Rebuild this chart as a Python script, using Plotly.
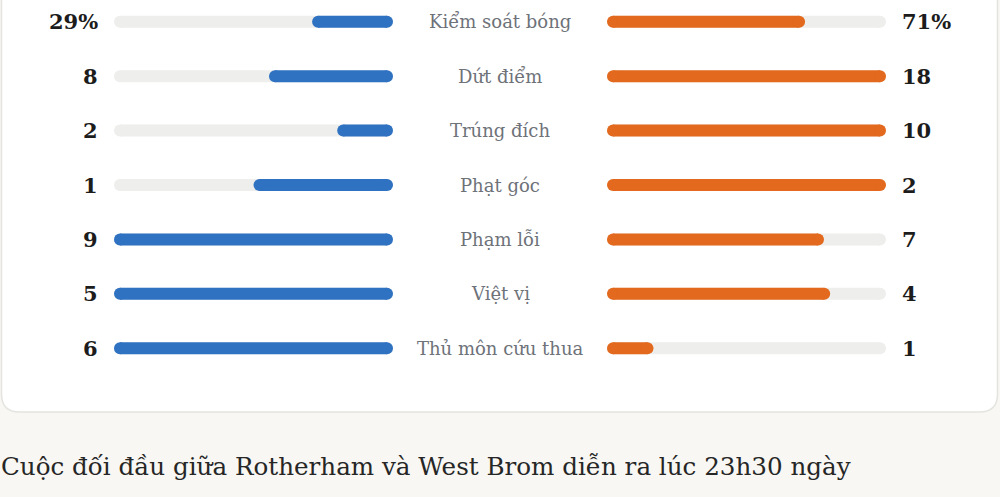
import plotly.graph_objects as go

stats = ["Kiểm soát bóng", "Dứt điểm", "Trúng đích", "Phạt góc", "Phạm lỗi", "Việt vị", "Thủ môn cứu thua"]
home = [29, 8, 2, 1, 9, 5, 6]
away = [71, 18, 10, 2, 7, 4, 1]
home_labels = ["29%", "8", "2", "1", "9", "5", "6"]
away_labels = ["71%", "18", "10", "2", "7", "4", "1"]
caption = "Cuộc đối đầu giữa Rotherham và West Brom diễn ra lúc 23h30 ngày"

BLUE = "#2f72c2"
ORANGE = "#e2691d"
TRACK = "#eeefec"

# possession is already a share, the rest are scaled against the bigger side
home_frac, away_frac = [], []
for i, (h, a) in enumerate(zip(home, away)):
    if i == 0:
        home_frac.append(h / 100)
        away_frac.append(a / 100)
    else:
        m = max(h, a)
        home_frac.append(h / m)
        away_frac.append(a / m)

ys = list(range(len(stats)))
TRACK_PX = 279
THICK = 12
cap = (THICK / 2) / TRACK_PX  # round cap size in axis units


def pill_xy(fracs):
    xs, yy = [], []
    for y, f in zip(ys, fracs):
        xs += [cap, max(f - cap, cap), None]
        yy += [y, y, None]
    return xs, yy


def pill(fracs, color, xaxis):
    xs, yy = pill_xy(fracs)
    return go.Scatter(x=xs, y=yy, mode="lines+markers", xaxis=xaxis, yaxis="y",
                      line=dict(color=color, width=THICK),
                      marker=dict(color=color, size=THICK, line=dict(width=0)),
                      hoverinfo="skip")


fig = go.Figure()
fig.add_trace(pill([1] * len(ys), TRACK, "x"))
fig.add_trace(pill(home_frac, BLUE, "x"))
fig.add_trace(pill([1] * len(ys), TRACK, "x2"))
fig.add_trace(pill(away_frac, ORANGE, "x2"))

H = 497


def py(p):
    return 1 - p / H


ann = []
for y, s, hl, al in zip(ys, stats, home_labels, away_labels):
    ann.append(dict(x=0.5, y=y, xref="paper", yref="y", text=s, showarrow=False,
                    xanchor="center", yanchor="middle",
                    font=dict(family="DejaVu Serif", size=18, color="#6e7279")))
    ann.append(dict(x=0.1, y=y, xref="paper", yref="y", text="<b>" + hl + "</b>", showarrow=False,
                    xanchor="right", yanchor="middle",
                    font=dict(family="DejaVu Serif", size=21, color="#1c1c1c")))
    ann.append(dict(x=0.9, y=y, xref="paper", yref="y", text="<b>" + al + "</b>", showarrow=False,
                    xanchor="left", yanchor="middle",
                    font=dict(family="DejaVu Serif", size=21, color="#1c1c1c")))
ann.append(dict(x=-0.001, y=py(466), xref="paper", yref="paper", text=caption, showarrow=False,
                xanchor="left", yanchor="middle",
                font=dict(family="DejaVu Serif", size=24.6, color="#262626")))

# white card with rounded corners
r = 18
x0, x1 = 0.0015, 0.9975
y_top, y_bot = py(-30), py(412)
rx, ry = r / 1000, r / H
card = (f"M {x0},{y_top} L {x1},{y_top} L {x1},{y_bot + ry} "
        f"Q {x1},{y_bot} {x1 - rx},{y_bot} L {x0 + rx},{y_bot} "
        f"Q {x0},{y_bot} {x0},{y_bot + ry} Z")

fig.update_layout(
    width=1000, height=497,
    margin=dict(l=0, r=0, t=0, b=0),
    paper_bgcolor="#f8f7f3", plot_bgcolor="rgba(0,0,0,0)",
    showlegend=False,
    xaxis=dict(domain=[0.114, 0.393], range=[1, 0], visible=False, fixedrange=True),
    xaxis2=dict(domain=[0.607, 0.886], range=[0, 1], visible=False, fixedrange=True),
    yaxis=dict(domain=[py(370), py(0)], range=[6.4, -0.4], visible=False, fixedrange=True),
    annotations=ann,
    shapes=[dict(type="path", path=card, xref="paper", yref="paper", layer="below",
                 fillcolor="#ffffff", line=dict(color="#e3e3df", width=1.5))],
)

fig.write_html("out.html", config={"displayModeBar": False},
               post_script="document.body.style.margin='0';document.body.style.overflow='hidden';")
